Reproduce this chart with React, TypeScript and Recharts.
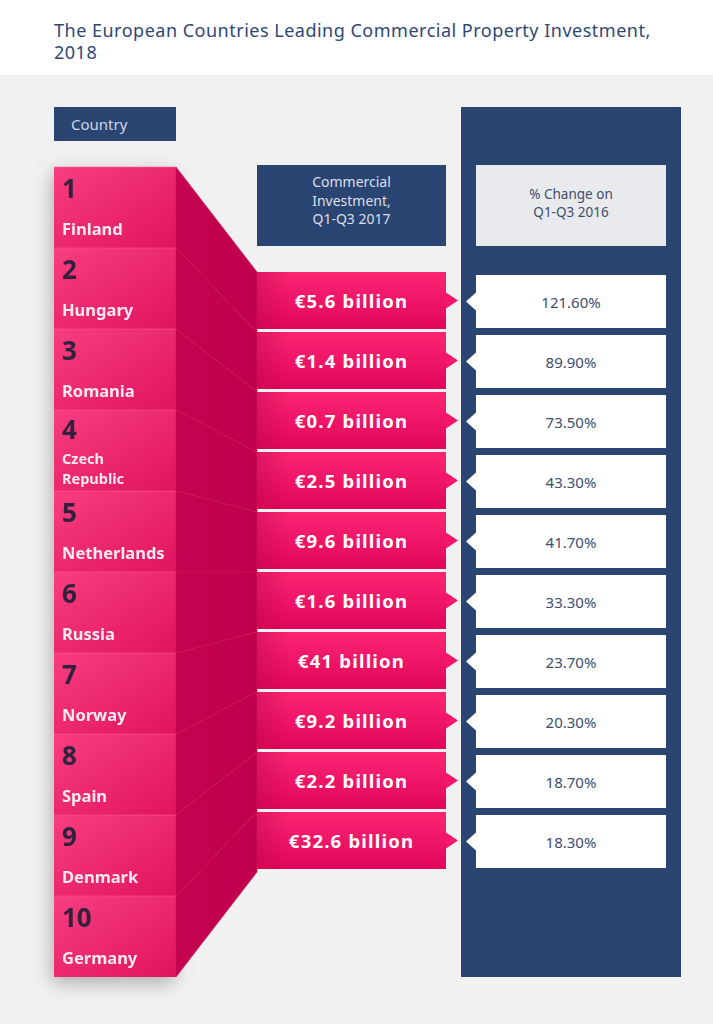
import { Bar, ComposedChart, XAxis, YAxis } from "recharts";

// Data read from the infographic
const countries = [
  "Finland",
  "Hungary",
  "Romania",
  "Czech Republic",
  "Netherlands",
  "Russia",
  "Norway",
  "Spain",
  "Denmark",
  "Germany",
];
const ranks = [1, 2, 3, 4, 5, 6, 7, 8, 9, 10];
const investmentBn = [5.6, 1.4, 0.7, 2.5, 9.6, 1.6, 41, 9.2, 2.2, 32.6];
const changePct = [121.6, 89.9, 73.5, 43.3, 41.7, 33.3, 23.7, 20.3, 18.7, 18.3];

const TITLE = "The European Countries Leading Commercial Property Investment,";
const TITLE_2 = "2018";
const HEAD_COUNTRY = "Country";
const HEAD_INVEST = ["Commercial", "Investment,", "Q1-Q3 2017"];
const HEAD_CHANGE = ["% Change on", "Q1-Q3 2016"];

const rows = countries.map((country, i) => ({
  country,
  rank: ranks[i],
  investment: investmentBn[i],
  change: changePct[i],
}));

// Layout
const W = 713;
const H = 1024;
const NAVY = "#2b4572";
const FONT = "'Noto Sans', sans-serif";
const COL = {
  country: { x: 54, w: 122 },
  value: { x: 257, w: 189 },
  change: { x: 476, w: 190 },
};

// band positions of the country rows, filled while the country bar renders
const countryBands: Record<number, { top: number; bottom: number }> = {};

const Defs = () => (
  <defs>
    <linearGradient id="cellGrad" x1="0" y1="0" x2="1" y2="1">
      <stop offset="0%" stopColor="#f83d7f" />
      <stop offset="100%" stopColor="#e0145f" />
    </linearGradient>
    <linearGradient id="connGrad" x1="0" y1="0" x2="1" y2="0">
      <stop offset="0%" stopColor="#c50350" />
      <stop offset="100%" stopColor="#c0004c" />
    </linearGradient>
    <linearGradient id="valueGrad" x1="0" y1="0" x2="0" y2="1">
      <stop offset="0%" stopColor="#fb2573" />
      <stop offset="100%" stopColor="#e2065b" />
    </linearGradient>
    <linearGradient id="valueShade" x1="0" y1="0" x2="1" y2="0">
      <stop offset="0%" stopColor="#b0003f" stopOpacity={0.35} />
      <stop offset="18%" stopColor="#b0003f" stopOpacity={0} />
    </linearGradient>
  </defs>
);

function CountryCell(props: any) {
  const { y, height, index, payload } = props;
  countryBands[index] = { top: y, bottom: y + height };
  const { x, w } = COL.country;
  const words: string[] = payload.country.split(" ");
  const twoLines = words.length > 1;
  return (
    <g>
      {index === 0 && <Defs />}
      <rect x={x} y={y} width={w} height={height} fill="url(#cellGrad)" />
      <line x1={x} x2={x + w} y1={y} y2={y} stroke="#ff5b93" strokeOpacity={0.5} />
      <text
        x={x + 8}
        y={y + (twoLines ? 29 : 31)}
        fontFamily={FONT}
        fontWeight={700}
        fontSize={26}
        fill="#30223c"
      >
        {payload.rank}
      </text>
      {twoLines ? (
        words.map((wd, k) => (
          <text
            key={k}
            x={x + 8}
            y={y + 54 + k * 20}
            fontFamily={FONT}
            fontWeight={700}
            fontSize={14.5}
            fill="#fdeaf1"
          >
            {wd}
          </text>
        ))
      ) : (
        <text
          x={x + 8}
          y={y + 68}
          fontFamily={FONT}
          fontWeight={700}
          fontSize={16.5}
          fill="#fdeaf1"
        >
          {payload.country}
        </text>
      )}
    </g>
  );
}

function ValueBox(props: any) {
  const { y, height, index, payload } = props;
  const { x, w } = COL.value;
  const band = countryBands[index];
  const cx = COL.country.x + COL.country.w;
  const boxH = height - 3;
  const cy = y + boxH / 2;
  return (
    <g>
      {band && (
        <polygon
          points={`${cx},${band.top} ${x},${y} ${x},${y + height} ${cx},${band.bottom}`}
          fill="url(#connGrad)"
          stroke="#cc1257"
          strokeWidth={0.6}
        />
      )}
      <rect x={x} y={y} width={w} height={boxH} fill="url(#valueGrad)" />
      <rect x={x} y={y} width={w} height={boxH} fill="url(#valueShade)" />
      <polygon
        points={`${x + w},${cy - 8} ${x + w + 12},${cy} ${x + w},${cy + 8}`}
        fill="#f5176a"
      />
      <text
        x={x + w / 2}
        y={cy + 7}
        textAnchor="middle"
        fontFamily={FONT}
        fontWeight={700}
        fontSize={18.5}
        letterSpacing={1.2}
        fill="#ffffff"
      >
        {`€${payload.investment} billion`}
      </text>
    </g>
  );
}

function ChangeBox(props: any) {
  const { y, height, payload } = props;
  const { x, w } = COL.change;
  const top = y + 3;
  const boxH = height - 7;
  const cy = top + boxH / 2;
  return (
    <g>
      <rect x={x} y={top} width={w} height={boxH} fill="#ffffff" />
      <polygon points={`${x},${cy - 9} ${x - 10},${cy} ${x},${cy + 9}`} fill="#ffffff" />
      <text
        x={x + w / 2}
        y={cy + 6}
        textAnchor="middle"
        fontFamily={FONT}
        fontSize={15}
        fill="#3d4d6e"
      >
        {`${payload.change.toFixed(2)}%`}
      </text>
    </g>
  );
}

export default function App() {
  return (
    <div
      style={{
        position: "absolute",
        left: 0,
        top: 0,
        width: W,
        height: H,
        background: "#ffffff",
        overflow: "hidden",
        fontFamily: FONT,
      }}
    >
      <style>{`.country-col { filter: drop-shadow(-2px 6px 9px rgba(0,0,0,0.28)); }`}</style>
      <div
        style={{
          position: "absolute",
          left: 54,
          top: 19,
          fontSize: 18,
          lineHeight: "22px",
          letterSpacing: 0.5,
          color: "#2e4876",
          whiteSpace: "nowrap",
        }}
      >
        <div>{TITLE}</div>
        <div>{TITLE_2}</div>
      </div>
      <div style={{ position: "absolute", left: 0, top: 75, width: W, height: H - 75, background: "#f1f1f1" }} />
      <div
        style={{
          position: "absolute",
          left: 54,
          top: 107,
          width: 122,
          height: 34,
          background: NAVY,
          color: "#cdd5e6",
          fontSize: 15,
          lineHeight: "34px",
          paddingLeft: 17,
          boxSizing: "border-box",
        }}
      >
        {HEAD_COUNTRY}
      </div>
      <div
        style={{
          position: "absolute",
          left: 257,
          top: 165,
          width: 189,
          height: 81,
          background: NAVY,
          color: "#d9dfeb",
          fontSize: 14,
          lineHeight: "18.5px",
          textAlign: "center",
          paddingTop: 8,
          boxSizing: "border-box",
        }}
      >
        {HEAD_INVEST.map((t) => (
          <div key={t}>{t}</div>
        ))}
      </div>
      <div style={{ position: "absolute", left: 461, top: 107, width: 220, height: 870, background: NAVY }} />
      <div
        style={{
          position: "absolute",
          left: 476,
          top: 165,
          width: 190,
          height: 81,
          background: "#e9eaee",
          color: "#3d4d6e",
          fontSize: 13.5,
          lineHeight: "18px",
          textAlign: "center",
          paddingTop: 20,
          boxSizing: "border-box",
        }}
      >
        {HEAD_CHANGE.map((t) => (
          <div key={t}>{t}</div>
        ))}
      </div>
      <div style={{ position: "absolute", left: 0, top: 0 }}>
        <ComposedChart
          width={W}
          height={H}
          data={rows}
          layout="vertical"
          barCategoryGap={0}
          margin={{ top: 167, right: 0, bottom: 47, left: 0 }}
        >
          <XAxis xAxisId="rank" type="number" hide />
          <XAxis xAxisId="inv" type="number" hide />
          <XAxis xAxisId="chg" type="number" hide />
          <YAxis yAxisId="country" type="category" dataKey="country" hide />
          <YAxis
            yAxisId="value"
            type="category"
            dataKey="country"
            hide
            padding={{ top: 105, bottom: 105 }}
          />
          <YAxis
            yAxisId="change"
            type="category"
            dataKey="country"
            hide
            padding={{ top: 105, bottom: 105 }}
          />
          <Bar
            className="country-col"
            xAxisId="rank"
            yAxisId="country"
            dataKey="rank"
            shape={CountryCell}
            isAnimationActive={false}
          />
          <Bar
            xAxisId="inv"
            yAxisId="value"
            dataKey="investment"
            shape={ValueBox}
            isAnimationActive={false}
          />
          <Bar
            xAxisId="chg"
            yAxisId="change"
            dataKey="change"
            shape={ChangeBox}
            isAnimationActive={false}
          />
        </ComposedChart>
      </div>
    </div>
  );
}
